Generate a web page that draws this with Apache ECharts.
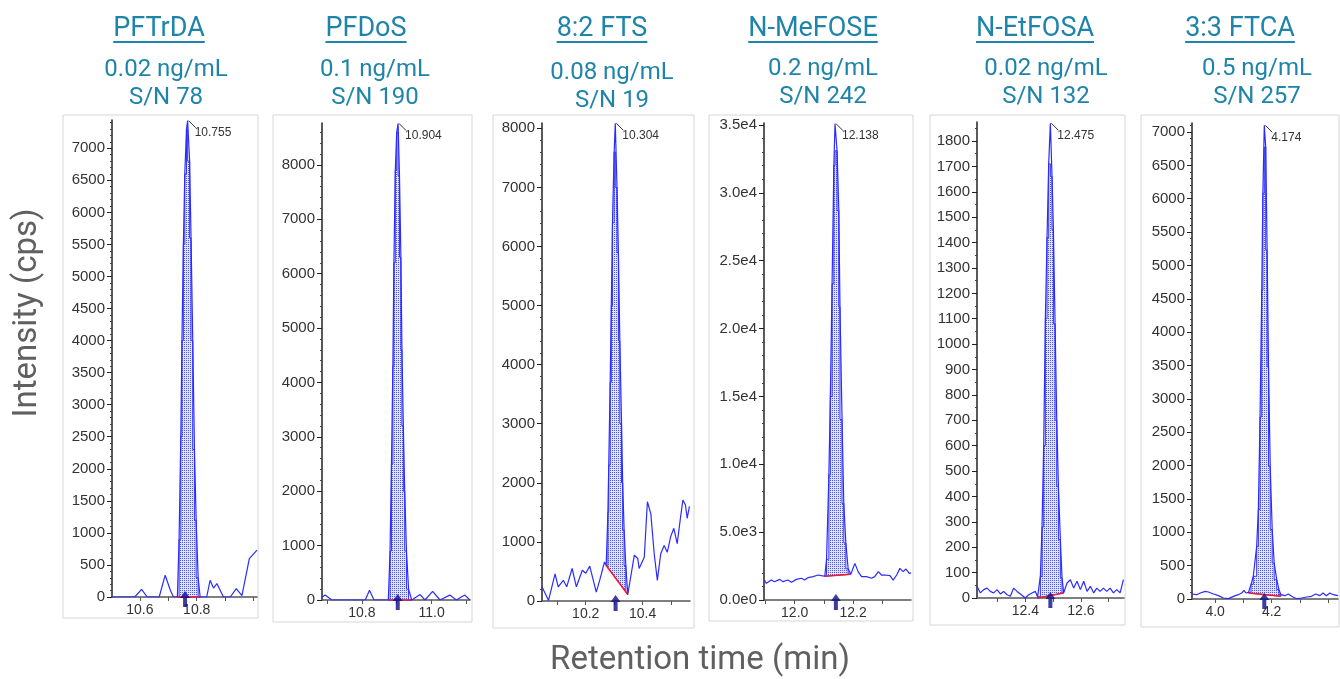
<!DOCTYPE html>
<html><head><meta charset="utf-8">
<script src="https://cdn.jsdelivr.net/npm/echarts@6/dist/echarts.min.js"></script>
<style>html,body{margin:0;padding:0;background:#fff}#c{width:1340px;height:679px}</style>
</head><body><div id="c"></div>
<script>
// ---------------- data ----------------
const compoundNames = ['PFTrDA', 'PFDoS', '8:2 FTS', 'N-MeFOSE', 'N-EtFOSA', '3:3 FTCA'];
const concLabels = ['0.02 ng/mL', '0.1 ng/mL', '0.08 ng/mL', '0.2 ng/mL', '0.02 ng/mL', '0.5 ng/mL'];
const snLabels = ['S/N 78', 'S/N 190', 'S/N 19', 'S/N 242', 'S/N 132', 'S/N 257'];
const rtLabels = ['10.755', '10.904', '10.304', '12.138', '12.475', '4.174'];
const arrowTimes = [10.759, 10.903, 10.305, 12.141, 12.490, 4.174];

const pftrdaTime = [10.502,10.582,10.606,10.626,10.668,10.689,10.706,10.718,10.732,10.738,10.744,10.748,10.753,10.758,10.764,10.768,10.775,10.780,10.786,10.792,10.798,10.805,10.812,10.835,10.847,10.859,10.871,10.894,10.918,10.939,10.959,10.985,11.012];
const pftrdaInt  = [0,0,120,0,0,340,120,0,0,900,2500,4000,5500,6600,7300,7430,6800,5600,4000,2300,1200,300,0,0,260,140,210,0,0,130,20,600,730];
const pftrdaBaseline = [[10.732, 0], [10.812, 0]];

const pfdosTime = [10.686,10.695,10.714,10.810,10.822,10.835,10.876,10.881,10.885,10.889,10.892,10.896,10.900,10.904,10.908,10.912,10.915,10.919,10.923,10.928,10.934,10.943,10.948,10.967,10.981,11.003,11.024,11.052,11.071,11.095,11.110];
const pfdosInt  = [50,90,0,0,180,0,0,900,2500,4300,6200,7900,8600,8760,7800,6300,4600,3200,2000,900,200,0,0,100,0,160,0,90,0,90,0];
const pfdosBaseline = [[10.876, 0], [10.943, 0]];

const ftsTime = [10.046,10.069,10.092,10.103,10.121,10.133,10.152,10.167,10.188,10.200,10.214,10.237,10.249,10.266,10.272,10.278,10.281,10.286,10.290,10.294,10.300,10.304,10.310,10.315,10.320,10.326,10.330,10.335,10.341,10.348,10.371,10.383,10.388,10.406,10.417,10.429,10.441,10.452,10.464,10.476,10.487,10.499,10.510,10.522,10.534,10.542,10.551,10.557,10.565];
const ftsInt  = [240,10,460,240,350,240,550,240,520,470,590,150,350,660,600,1500,2300,3700,5000,6400,7600,8085,7000,5900,4400,3000,2000,1200,600,110,775,720,550,740,1680,1480,800,350,800,940,825,1090,1230,970,1430,1710,1625,1400,1600];
const ftsBaseline = [[10.272, 600], [10.348, 110]];

const mefoseTime = [11.896,11.903,11.920,11.931,11.949,11.960,11.977,11.989,12.006,12.023,12.034,12.046,12.063,12.080,12.091,12.103,12.109,12.117,12.122,12.128,12.134,12.138,12.145,12.151,12.155,12.162,12.168,12.175,12.183,12.192,12.206,12.217,12.229,12.246,12.263,12.274,12.286,12.297,12.309,12.326,12.337,12.349,12.360,12.371,12.381,12.392,12.398];
const mefoseInt  = [1470,1230,1470,1350,1520,1350,1470,1300,1520,1600,1470,1650,1720,1840,1790,1750,3000,9200,15000,23300,32000,35100,33100,28700,21600,13300,7100,4200,2300,1900,2700,2090,1720,1720,1600,1720,2090,1840,1840,1790,1470,1840,2330,2090,2280,1960,2000];
const mefoseBaseline = [[12.103, 1750], [12.192, 1900]];

const etfosaTime = [12.226,12.238,12.250,12.262,12.274,12.286,12.298,12.310,12.322,12.334,12.346,12.358,12.370,12.382,12.400,12.412,12.424,12.436,12.444,12.454,12.460,12.466,12.472,12.478,12.484,12.490,12.496,12.501,12.507,12.513,12.519,12.526,12.532,12.538,12.550,12.562,12.574,12.586,12.598,12.610,12.622,12.634,12.646,12.657,12.669,12.681,12.693,12.705,12.717,12.729,12.741,12.753];
const etfosaInt  = [46,20,33,39,26,20,33,16,26,13,7,39,26,16,0,13,20,26,5,85,280,600,1100,1420,1710,1870,1660,1450,1080,700,440,230,80,20,59,72,39,66,33,66,26,46,20,39,26,39,26,39,20,33,20,72];
const etfosaBaseline = [[12.444, 0], [12.538, 20]];

const ftcaTime = [3.918,3.935,3.947,3.965,3.976,3.994,4.012,4.029,4.047,4.065,4.082,4.094,4.102,4.109,4.118,4.127,4.135,4.147,4.153,4.159,4.165,4.169,4.174,4.179,4.184,4.189,4.195,4.202,4.209,4.218,4.226,4.233,4.247,4.259,4.271,4.288,4.306,4.324,4.341,4.356,4.371,4.382,4.394,4.406,4.418,4.435];
const ftcaInt  = [75,65,90,115,105,75,50,15,5,40,65,90,130,90,100,220,340,790,1340,2730,4630,6080,7100,6775,5230,3480,1990,1040,540,290,140,65,50,75,40,5,15,30,40,75,50,90,50,90,65,50];
const ftcaBaseline = [[4.118, 90], [4.233, 40]];

const xLabelTicks = [[10.6,10.8],[10.8,11.0],[10.2,10.4],[12.0,12.2],[12.4,12.6],[4.0,4.2]];
const xMinorTicks = [[10.6,10.7,10.8,10.9,11.0],[10.7,10.8,10.9,11.0,11.1],[10.1,10.2,10.3,10.4,10.5],[11.9,12.0,12.1,12.2,12.3],[12.3,12.4,12.5,12.6,12.7],[4.0,4.1,4.2,4.3,4.4]];
const yTicks = [
  [0,500,1000,1500,2000,2500,3000,3500,4000,4500,5000,5500,6000,6500,7000],
  [0,1000,2000,3000,4000,5000,6000,7000,8000],
  [0,1000,2000,3000,4000,5000,6000,7000,8000],
  [0,5000,10000,15000,20000,25000,30000,35000],
  [0,100,200,300,400,500,600,700,800,900,1000,1100,1200,1300,1400,1500,1600,1700,1800],
  [0,500,1000,1500,2000,2500,3000,3500,4000,4500,5000,5500,6000,6500,7000]
];

// ---------------- layout / style ----------------
const traces = [
  {time: pftrdaTime, inten: pftrdaInt, base: pftrdaBaseline},
  {time: pfdosTime, inten: pfdosInt, base: pfdosBaseline},
  {time: ftsTime, inten: ftsInt, base: ftsBaseline},
  {time: mefoseTime, inten: mefoseInt, base: mefoseBaseline},
  {time: etfosaTime, inten: etfosaInt, base: etfosaBaseline},
  {time: ftcaTime, inten: ftcaInt, base: ftcaBaseline}
];
const grids = [
  {left: 112, top: 120, width: 145, height: 477},
  {left: 322, top: 123, width: 148, height: 477},
  {left: 542, top: 123, width: 148, height: 478},
  {left: 764, top: 123, width: 147, height: 477},
  {left: 977, top: 122, width: 147, height: 476},
  {left: 1192, top: 123, width: 146, height: 476}
];
const boxes = [[63,115,258,618],[273,115,472,622],[493,115,694,628],[709,115,913,621],[930,115,1125,625],[1141,115,1339,627]];
const xRanges = [[10.502,11.012],[10.686,11.110],[10.046,10.567],[11.895,12.398],[12.226,12.755],[3.918,4.435]];
const yMax = [7441, 8770, 8090, 35150, 1875, 7135];
const yInterval = [500, 1000, 1000, 5000, 100, 500];
const yMinorSplit = [5, 5, 5, 5, 2, 5];
const titleX = [159, 366, 602, 813, 1035, 1240];
const subX = [166, 375, 612, 823, 1046, 1257];
const sub1Y = [70, 70, 73, 69, 69, 69];
const sub2Y = [98, 98, 101, 97, 97, 97];
const TEAL = '#1f84aa';
const TRACE = '#2b2bff';

const pc = document.createElement('canvas'); pc.width = 2; pc.height = 2;
const pg = pc.getContext('2d');
pg.fillStyle = '#e2e5ff'; pg.fillRect(0,0,2,2);
pg.fillStyle = '#4b54ff'; pg.fillRect(0,0,1,1);

const mctx = document.createElement('canvas').getContext('2d');
mctx.font = '27px Roboto';

function baseAt(b, x) { return b[0][1] + (b[1][1]-b[0][1]) * (x-b[0][0]) / (b[1][0]-b[0][0]); }

function fillRender(p) {
  return function (params, api) {
    const idx = [];
    for (let k = 0; k < p.time.length; k++) {
      const t = p.time[k];
      if (t >= p.base[0][0] - 1e-9 && t <= p.base[1][0] + 1e-9) idx.push(k);
    }
    const pts = [api.coord(p.base[0])];
    for (let j = 0; j < idx.length - 1; j++) {
      const a = idx[j], b = idx[j+1];
      const h = Math.min(p.inten[a], p.inten[b]);
      pts.push(api.coord([p.time[a], Math.max(h, baseAt(p.base, p.time[a]))]));
      pts.push(api.coord([p.time[b], Math.max(h, baseAt(p.base, p.time[b]))]));
    }
    pts.push(api.coord(p.base[1]));
    return {type: 'polygon', shape: {points: pts},
      style: {fill: {type: 'pattern', image: pc, repeat: 'repeat'}, stroke: '#3535ff', lineWidth: 1}};
  };
}
function apexRender(p, label) {
  return function (params, api) {
    let k = 0;
    for (let j = 1; j < p.inten.length; j++) if (p.inten[j] > p.inten[k]) k = j;
    const c = api.coord([p.time[k], p.inten[k]]);
    return {type: 'group', children: [
      {type: 'line', shape: {x1: c[0]+1, y1: c[1], x2: c[0]+8, y2: c[1]+7}, style: {stroke: '#333', lineWidth: 1}},
      {type: 'text', style: {x: c[0]+7, y: c[1]+12, text: label, fill: '#333', font: '12px "Liberation Sans", Arial, sans-serif', align: 'left', textAlign: 'left', verticalAlign: 'middle', textVerticalAlign: 'middle'}}
    ]};
  };
}

const option = {animation: false, grid: [], xAxis: [], yAxis: [], series: [], graphic: []};
const graphics = [];

traces.forEach((p, i) => {
  option.grid.push(Object.assign({containLabel: false}, grids[i]));
  option.xAxis.push({
    gridIndex: i, type: 'value', min: xRanges[i][0], max: xRanges[i][1],
    axisLine: {show: true, onZero: false, lineStyle: {color: '#555', width: 1.5}},
    axisTick: {show: true, customValues: xMinorTicks[i], length: 4, lineStyle: {color: '#555'}},
    axisLabel: {customValues: xLabelTicks[i], formatter: v => v.toFixed(1), color: '#333', fontSize: 14, fontFamily: '"Liberation Sans", Arial, sans-serif', margin: 6},
    splitLine: {show: false}
  });
  option.yAxis.push({
    gridIndex: i, type: 'value', min: 0, max: yMax[i], interval: yInterval[i],
    axisLine: {show: true, lineStyle: {color: '#222', width: 1.5}},
    axisTick: {show: true, customValues: yTicks[i], length: 5, lineStyle: {color: '#222'}},
    minorTick: {show: true, splitNumber: yMinorSplit[i], length: 2, lineStyle: {color: '#444'}},
    axisLabel: {customValues: yTicks[i], color: '#333', fontSize: 15, fontFamily: '"Liberation Sans", Arial, sans-serif', margin: 7,
      formatter: i === 3 ? (v => v === 0 ? '0.0e0' : v.toExponential(1).replace('+', '')) : (v => String(v))},
    splitLine: {show: false}
  });
  option.series.push({
    type: 'custom', xAxisIndex: i, yAxisIndex: i, data: [[p.base[0][0], p.base[0][1]]],
    renderItem: fillRender(p), z: 2, silent: true
  });
  option.series.push({
    type: 'line', xAxisIndex: i, yAxisIndex: i, data: p.base, symbol: 'none', z: 3,
    lineStyle: {color: '#ff1a1a', width: 1.5}
  });
  option.series.push({
    type: 'line', xAxisIndex: i, yAxisIndex: i, data: p.time.map((t, k) => [t, p.inten[k]]),
    symbol: 'none', z: 4, lineStyle: {color: TRACE, width: 1.2}
  });
  option.series.push({
    type: 'scatter', xAxisIndex: i, yAxisIndex: i, data: [[arrowTimes[i], 0]], clip: false, z: 6,
    symbol: 'path://M5,0 L10,7 L7,7 L7,16 L3,16 L3,7 L0,7 Z', symbolSize: [10, 16], symbolOffset: [0, 2],
    itemStyle: {color: '#0c0c88'}
  });
  option.series.push({
    type: 'custom', xAxisIndex: i, yAxisIndex: i, data: [[p.base[0][0], p.base[0][1]]],
    renderItem: apexRender(p, rtLabels[i]), z: 5, silent: true, clip: false
  });

  const b = boxes[i];
  graphics.push({type: 'rect', z: -10, shape: {x: b[0], y: b[1], width: b[2]-b[0], height: b[3]-b[1]}, style: {fill: '#fff', stroke: '#d6d6d6', lineWidth: 1}});
  const tw = mctx.measureText(compoundNames[i]).width;
  graphics.push({type: 'text', x: titleX[i], y: 29, style: {text: compoundNames[i], fill: TEAL, font: '27px Roboto', textAlign: 'center', textVerticalAlign: 'middle', align: 'center', verticalAlign: 'middle'}});
  graphics.push({type: 'rect', shape: {x: titleX[i] - tw/2, y: 41, width: tw, height: 2}, style: {fill: TEAL}});
  graphics.push({type: 'text', x: subX[i], y: sub1Y[i], style: {text: concLabels[i], fill: TEAL, font: '24px Roboto', textAlign: 'center', textVerticalAlign: 'middle', align: 'center', verticalAlign: 'middle'}});
  graphics.push({type: 'text', x: subX[i], y: sub2Y[i], style: {text: snLabels[i], fill: TEAL, font: '24px Roboto', textAlign: 'center', textVerticalAlign: 'middle', align: 'center', verticalAlign: 'middle'}});
});

graphics.push({type: 'text', x: 28, y: 313, rotation: Math.PI/2, style: {text: 'Intensity (cps)', fill: '#606060', font: '33px Roboto', textAlign: 'center', textVerticalAlign: 'middle', align: 'center', verticalAlign: 'middle'}});
graphics.push({type: 'text', x: 700, y: 661, style: {text: 'Retention time (min)', fill: '#606060', font: '33px Roboto', textAlign: 'center', textVerticalAlign: 'middle', align: 'center', verticalAlign: 'middle'}});
option.graphic = {elements: graphics};

const chart = echarts.init(document.getElementById('c'), null, {renderer: 'canvas'});
chart.setOption(option);
</script>
</body></html>
